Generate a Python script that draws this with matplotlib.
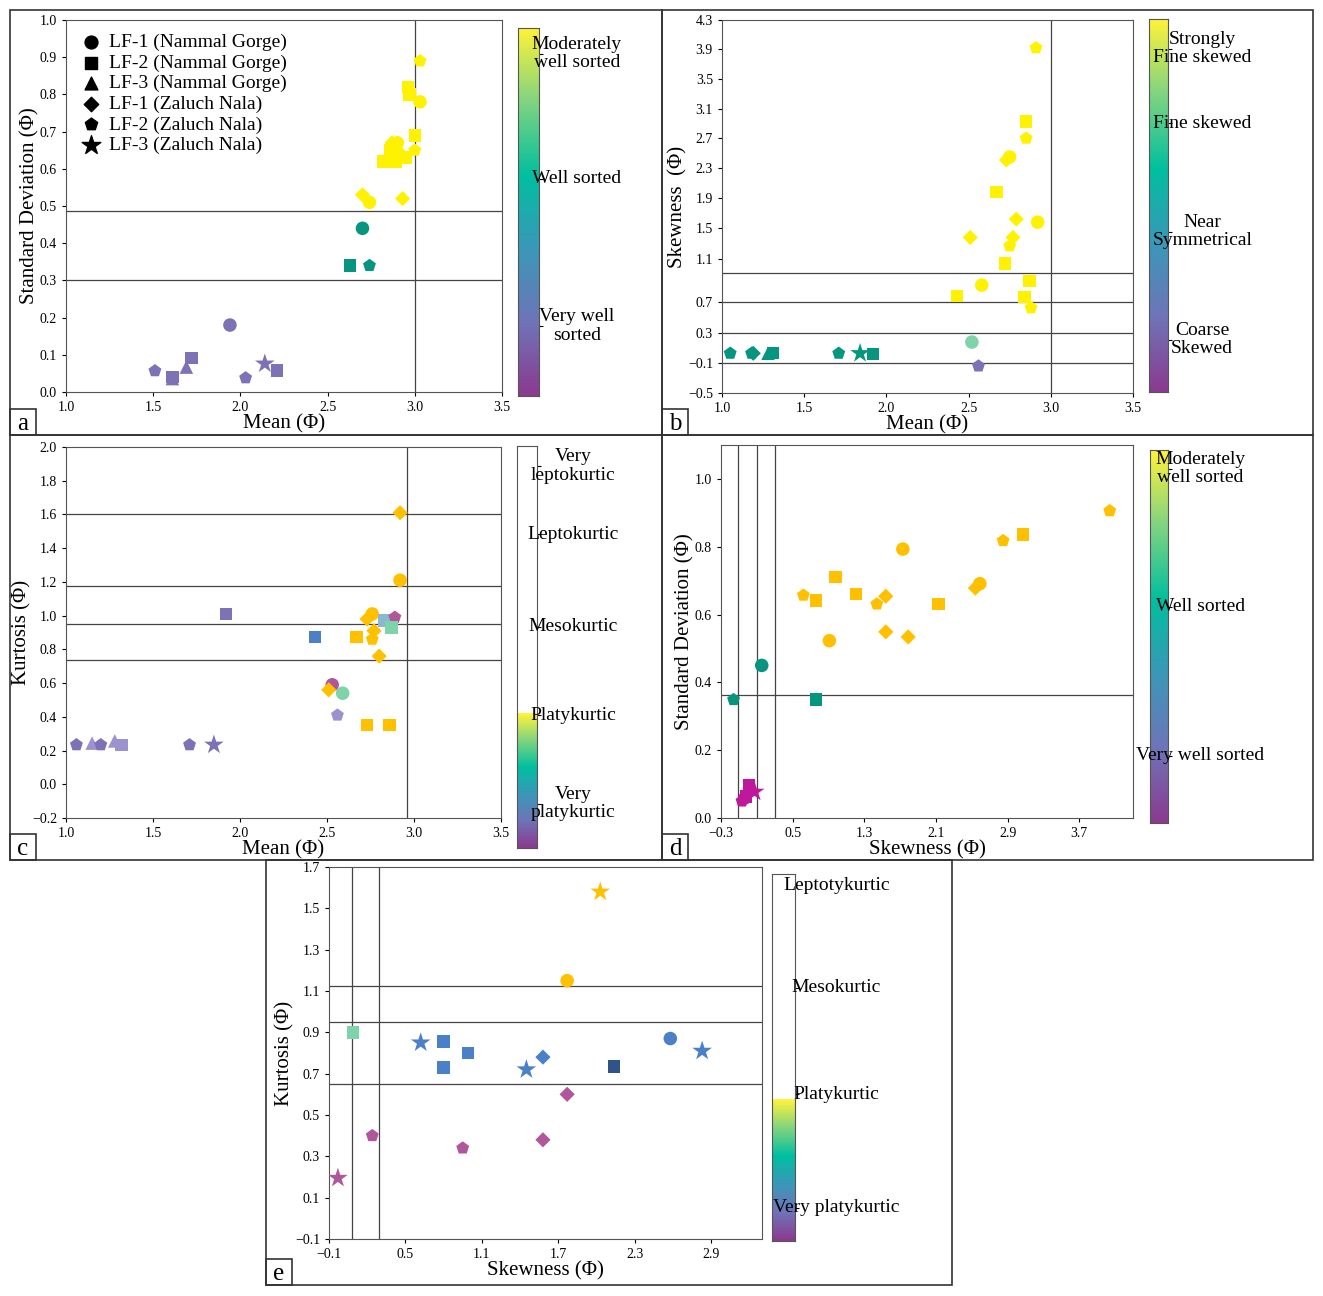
import numpy as np
import matplotlib.pyplot as plt
from matplotlib.colors import LinearSegmentedColormap, ListedColormap
from matplotlib.patches import Rectangle

plt.rcParams['font.family'] = ['Liberation Serif', 'DejaVu Serif']

W, H = 1323, 1296
YB = '#FFF200'   # bright yellow (a, b)
YO = '#FFC000'   # amber (c, d, e)
TL = '#06967F'   # teal
PU = '#7D72B5'   # purple
LP = '#9B93D0'   # light purple
BL = '#4A80C8'   # blue
DB = '#2F5487'   # dark blue
MG = '#B0569A'   # magenta
GR = '#7FD3A8'   # light green
LB = '#8BB8D0'   # light blue
PK = '#C0189A'   # pink-magenta

MK = {'c': 'o', 's': 's', 't': '^', 'd': 'D', 'p': 'p', 'r': '*'}
SZ = {'o': 95, 's': 80, '^': 95, 'D': 60, 'p': 95, '*': 220}

# ---- panel a : mean vs standard deviation
a_x = [3.03, 2.96, 2.97, 3.03, 3.00, 2.90, 2.87, 2.86, 2.92, 3.00, 2.82, 2.89, 2.95,
       2.70, 2.74, 2.93, 2.70, 2.63, 2.74, 1.94, 1.51, 1.61, 1.61, 1.69, 1.72, 2.03, 2.14, 2.21]
a_y = [0.89, 0.82, 0.80, 0.78, 0.69, 0.67, 0.67, 0.65, 0.64, 0.65, 0.62, 0.62, 0.63,
       0.53, 0.51, 0.52, 0.44, 0.34, 0.34, 0.18, 0.057, 0.036, 0.04, 0.067, 0.092, 0.038, 0.076, 0.058]
a_m = ['p', 's', 's', 'c', 's', 'c', 'd', 's', 'd', 'p', 's', 's', 's',
       'd', 'c', 'd', 'c', 's', 'p', 'c', 'p', 't', 's', 't', 's', 'p', 'r', 's']
a_c = [YB] * 16 + [TL] * 3 + [PU] * 9

# ---- panel b : mean vs skewness
b_x = [2.91, 2.85, 2.85, 2.73, 2.75, 2.67, 2.79, 2.92, 2.51, 2.77, 2.75, 2.72, 2.87, 2.58,
       2.43, 2.84, 2.88, 2.52, 2.56, 1.05, 1.18, 1.19, 1.28, 1.31, 1.71, 1.84, 1.92]
b_y = [3.92, 2.93, 2.70, 2.41, 2.45, 1.98, 1.62, 1.58, 1.38, 1.38, 1.27, 1.06, 0.90, 0.86,
       0.76, 0.75, 0.63, 0.18, -0.14, 0.03, 0.03, 0.03, 0.03, 0.035, 0.03, 0.03, 0.02]
b_m = ['p', 's', 'p', 'd', 'c', 's', 'd', 'c', 'd', 'd', 'p', 's', 's', 'c',
       's', 's', 'p', 'c', 'p', 'p', 'p', 'd', 't', 's', 'p', 'r', 's']
b_c = [YB] * 17 + [GR, PU] + [TL] * 8
b_ticks = [-0.5, -0.1, 0.3, 0.7, 1.1, 1.5, 1.9, 2.3, 2.7, 3.1, 3.5, 3.9, 4.3]
b_tpos = [0, 90, 180, 272, 402, 495, 585, 675, 765, 853, 943, 1032, 1120]

# ---- panel c : mean vs kurtosis
c_x = [2.92, 2.92, 1.92, 2.43, 2.67, 2.73, 2.76, 2.83, 2.89, 2.87, 2.77, 2.76, 2.80,
       2.53, 2.51, 2.59, 2.56, 2.73, 2.86, 1.06, 1.15, 1.20, 1.28, 1.32, 1.71, 1.85]
c_y = [1.61, 1.21, 1.01, 0.875, 0.875, 0.98, 1.01, 0.97, 0.99, 0.93, 0.91, 0.86, 0.76,
       0.59, 0.56, 0.54, 0.41, 0.35, 0.35, 0.234, 0.244, 0.234, 0.257, 0.234, 0.234, 0.234]
c_m = ['d', 'c', 's', 's', 's', 'd', 'c', 's', 'p', 's', 'd', 'p', 'd',
       'c', 'd', 'c', 'p', 's', 's', 'p', 't', 'p', 't', 's', 'p', 'r']
c_c = [YO, YO, PU, BL, YO, YO, YO, LB, MG, GR, YO, YO, YO,
       MG, YO, GR, LP, YO, YO, PU, LP, PU, LP, LP, PU, PU]

# ---- panel d : skewness vs standard deviation
d_x = [4.04, 3.07, 2.85, 1.73, 0.98, 1.21, 0.62, 0.76, 1.54, 1.44, 2.13, 2.59, 2.54,
       1.54, 1.79, 0.91, 0.155, -0.16, 0.76, 0.015, -0.02, -0.065, 0.075, -0.03]
d_y = [0.906, 0.836, 0.818, 0.793, 0.71, 0.66, 0.657, 0.641, 0.654, 0.631, 0.631, 0.691, 0.678,
       0.549, 0.534, 0.523, 0.45, 0.349, 0.349, 0.098, 0.064, 0.05, 0.077, 0.06]
d_m = ['p', 's', 'p', 'c', 's', 's', 'p', 's', 'd', 'p', 's', 'c', 'd',
       'd', 'd', 'c', 'c', 'p', 's', 's', 's', 'p', 'r', 'c']
d_c = [YO] * 16 + [TL] * 3 + [PK] * 5

# ---- panel e : skewness vs kurtosis
e_x = [2.03, 1.77, 0.09, 0.62, 0.80, 0.80, 0.99, 1.45, 1.58, 2.14, 2.58, 2.83,
       1.77, 0.24, 0.95, 1.58, -0.03]
e_y = [1.58, 1.15, 0.90, 0.85, 0.855, 0.73, 0.80, 0.72, 0.78, 0.735, 0.87, 0.81,
       0.60, 0.40, 0.34, 0.38, 0.195]
e_m = ['r', 'c', 's', 'r', 's', 's', 's', 'r', 'd', 's', 'c', 'r',
       'd', 'p', 'p', 'd', 'r']
e_c = [YO, YO, GR, BL, BL, BL, BL, BL, BL, DB, BL, BL, MG, MG, MG, MG, MG]

legend_labels = ['LF-1 (Nammal Gorge)', 'LF-2 (Nammal Gorge)', 'LF-3 (Nammal Gorge)',
                 'LF-1 (Zaluch Nala)', 'LF-2 (Zaluch Nala)', 'LF-3 (Zaluch Nala)']

cmap = LinearSegmentedColormap.from_list(
    'sed', ['#8B3A8F', '#6F74B8', '#3A98B8', '#00BFA0', '#80D480', '#FFF23A'])


def box(px):
    x0, y0, x1, y1 = px
    return [x0 / W, 1 - y1 / H, (x1 - x0) / W, (y1 - y0) / H]


def scatter(ax, xs, ys, ms, cs):
    for x, y, m, c in zip(xs, ys, ms, cs):
        mk = MK[m]
        ax.scatter(x, y, marker=mk, s=SZ[mk], color=c, edgecolors='none', zorder=3)


def style(ax):
    ax.tick_params(labelsize=10, direction='out', length=3)
    for s in ax.spines.values():
        s.set_color('#555555')


def colorbar(px, labels, white_above=None):
    cax = fig.add_axes(box(px))
    grad = np.linspace(0, 1, 256).reshape(-1, 1)
    cm = cmap
    if white_above is not None:
        cols = cmap(np.linspace(0, 1, 256))
        n = int(256 * white_above)
        cm = ListedColormap(np.vstack([cmap(np.linspace(0, 1, n)),
                                       np.ones((256 - n, 4))]))
    cax.imshow(grad, aspect='auto', origin='lower', cmap=cm, extent=[0, 1, 0, 1])
    cax.set_xticks([])
    cax.yaxis.tick_right()
    cax.set_yticks([p for p, _ in labels if p < 0.97])
    cax.set_yticklabels([])
    cax.tick_params(length=3)
    for p, t in labels:
        cax.text(2.8, p, t, transform=cax.transAxes, ha='center', va='center',
                 fontsize=14, linespacing=1.1)
    for s in cax.spines.values():
        s.set_color('#555555')
    return cax


fig = plt.figure(figsize=(W / 100, H / 100), dpi=100)

# panel frames and letters
frames = {'a': (10, 10, 662, 435), 'b': (662, 10, 1313, 435), 'c': (10, 435, 662, 860),
          'd': (662, 435, 1313, 860), 'e': (266, 860, 952, 1285)}
for k, (x0, y0, x1, y1) in frames.items():
    fig.patches.append(Rectangle((x0 / W, 1 - y1 / H), (x1 - x0) / W, (y1 - y0) / H,
                                 transform=fig.transFigure, fill=False,
                                 edgecolor='#333333', lw=1.2))
    fig.patches.append(Rectangle((x0 / W, 1 - y1 / H), 26 / W, 26 / H,
                                 transform=fig.transFigure, fill=False,
                                 edgecolor='#333333', lw=1.2))
    fig.text((x0 + 13) / W, 1 - (y1 - 11) / H, k, ha='center', va='center', fontsize=18)

# ---- a
ax = fig.add_axes(box((66, 20, 502, 392)))
scatter(ax, a_x, a_y, a_m, a_c)
ax.set_xlim(1.0, 3.5)
ax.set_ylim(0, 1.0)
ax.set_xticks(np.arange(1.0, 3.51, 0.5))
ax.set_yticks(np.arange(0, 1.01, 0.1))
ax.set_xticklabels([f'{v:.1f}' for v in np.arange(1.0, 3.51, 0.5)])
ax.set_yticklabels([f'{v:.1f}' for v in np.arange(0, 1.01, 0.1)])
for y in (0.487, 0.30):
    ax.axhline(y, color='#444444', lw=0.9)
ax.axvline(3.0, color='#444444', lw=0.9)
ax.set_xlabel('Mean (Φ)', fontsize=15, labelpad=0)
ax.set_ylabel('Standard Deviation (Φ)', fontsize=15, labelpad=0)
for lab, m in zip(legend_labels, ['o', 's', '^', 'D', 'p', '*']):
    ax.scatter([], [], marker=m, s=SZ[m] * 0.9, color='black', label=lab)
ax.legend(loc='upper left', frameon=False, fontsize=14, handletextpad=0.3,
          labelspacing=0.15, borderaxespad=0.3, handlelength=1.2)
style(ax)
colorbar((518, 28, 539, 396), [(0.93, 'Moderately\nwell sorted'), (0.59, 'Well sorted'),
                               (0.19, 'Very well\nsorted')])

# ---- b
ax = fig.add_axes(box((722, 20, 1133, 393)))
fwd = lambda v: np.interp(v, b_ticks, b_tpos)
inv = lambda p: np.interp(p, b_tpos, b_ticks)
ax.set_yscale('function', functions=(fwd, inv))
scatter(ax, b_x, b_y, b_m, b_c)
ax.set_xlim(1.0, 3.5)
ax.set_ylim(-0.5, 4.3)
ax.set_xticks(np.arange(1.0, 3.51, 0.5))
ax.set_xticklabels([f'{v:.1f}' for v in np.arange(1.0, 3.51, 0.5)])
ax.set_yticks(b_ticks)
ax.set_yticklabels([f'{v:.1f}'.replace('-', '−') for v in b_ticks])
ax.minorticks_off()
for y in (0.97, 0.7, 0.3, -0.1):
    ax.axhline(y, color='#444444', lw=0.9)
ax.axvline(3.0, color='#444444', lw=0.9)
ax.set_xlabel('Mean (Φ)', fontsize=15, labelpad=0)
ax.set_ylabel('Skewness  (Φ)', fontsize=15, labelpad=0)
style(ax)
colorbar((1149, 19, 1168, 392), [(0.92, 'Strongly\nFine skewed'), (0.72, 'Fine skewed'),
                                 (0.43, 'Near\nSymmetrical'), (0.14, 'Coarse\nSkewed')])

# ---- c
ax = fig.add_axes(box((66, 447, 501, 818)))
scatter(ax, c_x, c_y, c_m, c_c)
ax.set_xlim(1.0, 3.5)
ax.set_ylim(-0.2, 2.0)
ax.set_xticks(np.arange(1.0, 3.51, 0.5))
ax.set_xticklabels([f'{v:.1f}' for v in np.arange(1.0, 3.51, 0.5)])
cy = np.arange(-0.2, 2.01, 0.2)
ax.set_yticks(cy)
ax.set_yticklabels([f'{v:.1f}'.replace('-', '−') for v in cy])
for y in (1.6, 1.173, 0.952, 0.739):
    ax.axhline(y, color='#444444', lw=0.9)
ax.axvline(2.96, color='#444444', lw=0.9)
ax.set_xlabel('Mean (Φ)', fontsize=15, labelpad=0)
ax.set_ylabel('Kurtosis (Φ)', fontsize=15, labelpad=0)
style(ax)
colorbar((517, 446, 537, 848), [(0.95, 'Very\nleptokurtic'), (0.78, 'Leptokurtic'),
                                (0.55, 'Mesokurtic'), (0.33, 'Platykurtic'),
                                (0.11, 'Very\nplatykurtic')], white_above=0.336)

# ---- d
ax = fig.add_axes(box((721, 445, 1133, 818)))
scatter(ax, d_x, d_y, d_m, d_c)
ax.set_xlim(-0.3, 4.3)
ax.set_ylim(0, 1.1)
dx = np.arange(-0.3, 4.31, 0.8)
ax.set_xticks(dx)
ax.set_xticklabels([f'{v:.1f}'.replace('-', '−') for v in dx])
ax.set_yticks(np.arange(0, 1.01, 0.2))
ax.set_yticklabels([f'{v:.1f}' for v in np.arange(0, 1.01, 0.2)])
ax.axhline(0.364, color='#444444', lw=0.9)
for x in (-0.11, 0.1, 0.3):
    ax.axvline(x, color='#444444', lw=0.9)
ax.set_xlabel('Skewness (Φ)', fontsize=15, labelpad=0)
ax.set_ylabel('Standard Deviation (Φ)', fontsize=15, labelpad=0)
style(ax)
colorbar((1150, 450, 1168, 823), [(0.95, 'Moderately\nwell sorted'), (0.58, 'Well sorted'),
                                  (0.18, 'Very well sorted')])

# ---- e
ax = fig.add_axes(box((329, 867, 762, 1239)))
scatter(ax, e_x, e_y, e_m, e_c)
ax.set_xlim(-0.1, 3.3)
ax.set_ylim(-0.1, 1.7)
ex = np.arange(-0.1, 3.31, 0.6)
ax.set_xticks(ex)
ax.set_xticklabels([f'{v:.1f}'.replace('-', '−') for v in ex])
ey = np.arange(-0.1, 1.71, 0.2)
ax.set_yticks(ey)
ax.set_yticklabels([f'{v:.1f}'.replace('-', '−') for v in ey])
for y in (1.126, 0.948, 0.652):
    ax.axhline(y, color='#444444', lw=0.9)
for x in (0.083, 0.29):
    ax.axvline(x, color='#444444', lw=0.9)
ax.set_xlabel('Skewness (Φ)', fontsize=15, labelpad=0)
ax.set_ylabel('Kurtosis (Φ)', fontsize=15, labelpad=0)
style(ax)
colorbar((772, 874, 795, 1241), [(0.97, 'Leptotykurtic'), (0.69, 'Mesokurtic'),
                                 (0.40, 'Platykurtic'), (0.09, 'Very platykurtic')],
         white_above=0.39)

fig.savefig('out.png', dpi=100)
